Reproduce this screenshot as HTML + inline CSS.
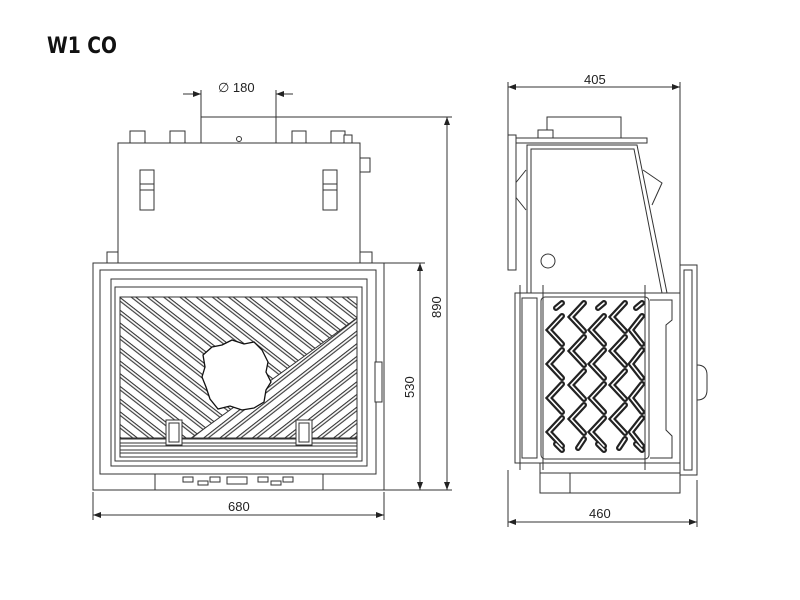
<!DOCTYPE html>
<html><head><meta charset="utf-8"><style>
html,body{margin:0;padding:0;background:#fff;width:800px;height:600px;overflow:hidden}
svg{display:block}
text{font-family:"Liberation Sans",sans-serif;fill:#222}
</style></head><body>
<svg width="800" height="600" viewBox="0 0 800 600" xmlns="http://www.w3.org/2000/svg">
<defs>
<pattern id="hb" patternUnits="userSpaceOnUse" width="10" height="10" patternTransform="rotate(38)">
<rect width="10" height="10" fill="#fff"/><rect x="0" y="0" width="10" height="1.1" fill="#333"/><rect x="0" y="2.8" width="10" height="1.1" fill="#333"/></pattern>
<pattern id="hf" patternUnits="userSpaceOnUse" width="10" height="10" patternTransform="rotate(-38)">
<rect width="10" height="10" fill="#fff"/><rect x="0" y="0" width="10" height="1.1" fill="#333"/><rect x="0" y="2.8" width="10" height="1.1" fill="#333"/></pattern>
<marker id="ar" markerWidth="8" markerHeight="6" refX="8" refY="3" orient="auto-start-reverse" markerUnits="userSpaceOnUse"><path d="M0,0 L8,3 L0,6 z" fill="#222"/></marker>
<g id="zz" fill="none" stroke-linejoin="miter" stroke-linecap="round">
<polyline points="562,303 556,308"/><polyline points="562,316 549,330 562,344"/><polyline points="562,350 549,364 562,378"/><polyline points="562,384 549,398 562,412"/><polyline points="562,418 549,432 562,446"/><polyline points="556,444 562,450"/>
<polyline points="584,303 571,317 584,331"/><polyline points="584,337 571,351 584,365"/><polyline points="584,371 571,385 584,399"/><polyline points="584,405 571,419 584,433"/><polyline points="584,439 578,448"/>
<polyline points="604,303 598,308"/><polyline points="604,316 591,330 604,344"/><polyline points="604,350 591,364 604,378"/><polyline points="604,384 591,398 604,412"/><polyline points="604,418 591,432 604,446"/><polyline points="598,444 604,450"/>
<polyline points="625,303 612,317 625,331"/><polyline points="625,337 612,351 625,365"/><polyline points="625,371 612,385 625,399"/><polyline points="625,405 612,419 625,433"/><polyline points="625,439 619,448"/>
<polyline points="642,303 636,308"/><polyline points="642,316 631,330 642,344"/><polyline points="642,350 631,364 642,378"/><polyline points="642,384 631,398 642,412"/><polyline points="642,418 631,432 642,446"/><polyline points="636,444 642,450"/>
</g>
</defs>
<text x="47" y="53" font-size="22" font-weight="bold" style="fill:#111;font-family:'DejaVu Sans',sans-serif" textLength="70" lengthAdjust="spacingAndGlyphs">W1 CO</text>

<g stroke="#333" stroke-width="1" fill="none">
<line x1="183" y1="94" x2="201" y2="94" marker-end="url(#ar)"/>
<line x1="293" y1="94" x2="276" y2="94" marker-end="url(#ar)"/>
<line x1="201" y1="90" x2="201" y2="117"/><line x1="276" y1="90" x2="276" y2="117"/>
<line x1="276" y1="117" x2="452" y2="117"/>
<line x1="384" y1="490" x2="452" y2="490"/>
<line x1="447" y1="117" x2="447" y2="490" marker-start="url(#ar)" marker-end="url(#ar)"/>
<line x1="384" y1="263" x2="425" y2="263"/>
<line x1="420" y1="263" x2="420" y2="490" marker-start="url(#ar)" marker-end="url(#ar)"/>
<line x1="93" y1="492" x2="93" y2="520"/><line x1="384" y1="492" x2="384" y2="520"/>
<line x1="93" y1="515" x2="384" y2="515" marker-start="url(#ar)" marker-end="url(#ar)"/>
</g>
<text x="218" y="92" font-size="13">∅ 180</text>
<text x="0" y="0" font-size="13" transform="translate(441,318) rotate(-90)">890</text>
<text x="0" y="0" font-size="13" transform="translate(414,398) rotate(-90)">530</text>
<text x="228" y="511" font-size="13">680</text>

<g stroke="#333" stroke-width="1" fill="#fff">
<rect x="201" y="117" width="75" height="26"/>
<circle cx="239" cy="139" r="2.5"/>
<rect x="130" y="131" width="15" height="12"/><rect x="170" y="131" width="15" height="12"/>
<rect x="292" y="131" width="14" height="12"/><rect x="331" y="131" width="14" height="12"/><rect x="344" y="135" width="8" height="8"/>
<rect x="118" y="143" width="242" height="120"/>
<rect x="360" y="158" width="10" height="14"/>
<rect x="140" y="170" width="14" height="40"/><line x1="140" y1="184" x2="154" y2="184"/><line x1="140" y1="190" x2="154" y2="190"/>
<rect x="323" y="170" width="14" height="40"/><line x1="323" y1="184" x2="337" y2="184"/><line x1="323" y1="190" x2="337" y2="190"/>
<rect x="107" y="252" width="11" height="11"/><rect x="360" y="252" width="12" height="11"/>
<rect x="93" y="263" width="291" height="227"/>
<rect x="155" y="474" width="168" height="16"/>
<rect x="100" y="270" width="276" height="204"/>
<rect x="111" y="279" width="256" height="187"/>
<rect x="115" y="287" width="247" height="174"/>
<rect x="120" y="297" width="237" height="160" fill="url(#hb)"/>
<polygon points="165,457 357,318 357,457" fill="url(#hf)"/>
<path d="M222,345 l10,-5 l12,4 l10,-2 l8,8 l6,12 l-2,10 l5,10 l-5,8 l-2,12 l-10,6 l-12,2 l-12,-4 l-12,3 l-8,-10 l-4,-12 l-4,-10 l3,-10 l-2,-12 l9,-8 z" fill="#fff" stroke="#111" stroke-width="1.3"/>
<rect x="120" y="438" width="237" height="19" fill="#fff"/>
<rect x="120" y="439" width="237" height="4"/><rect x="120" y="446" width="237" height="4"/><rect x="120" y="453" width="237" height="4"/>
<rect x="166" y="420" width="16" height="25"/><rect x="169" y="423" width="10" height="19"/>
<rect x="296" y="420" width="16" height="25"/><rect x="299" y="423" width="10" height="19"/>
<rect x="375" y="362" width="7" height="40"/>
<rect x="183" y="477" width="10" height="5"/><rect x="198" y="481" width="10" height="4"/><rect x="210" y="477" width="10" height="5"/>
<rect x="227" y="477" width="20" height="7"/>
<rect x="258" y="477" width="10" height="5"/><rect x="271" y="481" width="10" height="4"/><rect x="283" y="477" width="10" height="5"/>
</g>

<g stroke="#333" stroke-width="1" fill="none">
<line x1="508" y1="82" x2="508" y2="135"/><line x1="680" y1="82" x2="680" y2="265"/>
<line x1="508" y1="87" x2="680" y2="87" marker-start="url(#ar)" marker-end="url(#ar)"/>
<line x1="508" y1="470" x2="508" y2="527"/><line x1="697" y1="480" x2="697" y2="527"/>
<line x1="508" y1="522" x2="697" y2="522" marker-start="url(#ar)" marker-end="url(#ar)"/>
</g>
<text x="584" y="84" font-size="13">405</text>
<text x="589" y="518" font-size="13">460</text>

<g stroke="#333" stroke-width="1" fill="#fff">
<rect x="547" y="117" width="74" height="25"/>
<rect x="538" y="130" width="15" height="12"/>
<rect x="515" y="138" width="132" height="5"/>
<polygon points="527,145 637,145 667,293 527,293"/>
<polygon points="531,149 634,149 662,293 531,293" fill="none"/>
<polyline points="526,170 510,190 526,210" fill="none"/>
<polyline points="643,170 662,183 652,205" fill="none"/>
<rect x="508" y="135" width="8" height="135"/>
<circle cx="548" cy="261" r="7"/>
<rect x="515" y="293" width="165" height="170"/>
<rect x="522" y="298" width="15" height="160"/>
<rect x="541" y="297" width="108" height="162" rx="4"/>
<polyline points="650,300 672,300 672,320 666,325 666,430 672,436 672,458 650,458" fill="none"/>
<rect x="680" y="265" width="17" height="210"/>
<rect x="684" y="270" width="8" height="200" fill="none"/>
<path d="M697,365 q10,0 10,10 v15 q0,10 -10,10" fill="none"/>
<rect x="540" y="463" width="140" height="10"/>
<rect x="540" y="473" width="30" height="20"/>
<rect x="570" y="473" width="110" height="20" fill="none"/>
</g>
<use href="#zz" stroke="#222" stroke-width="6"/>
<use href="#zz" stroke="#fff" stroke-width="1.6"/>
<g stroke="#333" stroke-width="1">
<line x1="543" y1="285" x2="543" y2="470"/><line x1="645" y1="285" x2="645" y2="470"/>
<line x1="520" y1="285" x2="520" y2="470"/>
</g>
</svg>
</body></html>
